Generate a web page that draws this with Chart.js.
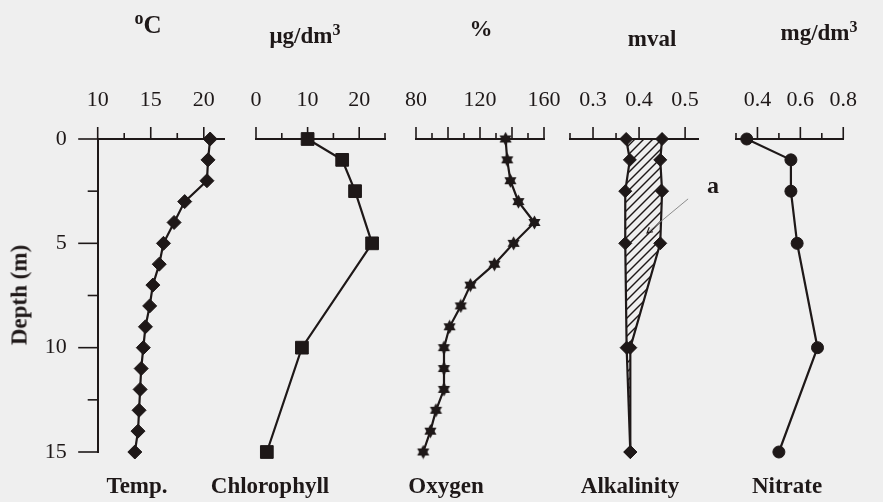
<!DOCTYPE html>
<html><head><meta charset="utf-8">
<script src="https://cdn.jsdelivr.net/npm/chart.js@4/dist/chart.umd.min.js"></script>
<style>
html,body{margin:0;padding:0;background:#efefef;}
#wrap{position:relative;width:883px;height:502px;overflow:hidden;background:#efefef;font-family:"Liberation Serif","Times New Roman",serif;color:#1e1818;}
#wrap canvas{position:absolute;left:0;top:0;}
.t{position:absolute;white-space:nowrap;font-weight:bold;}
</style></head><body><div id="wrap"></div>
<script>
// ---- data ----
const depthMetres = [0,1,2,3,4,5,6,7,8,9,10,11,12,13,14,15];
const temperature = [20.6,20.4,20.3,18.2,17.2,16.2,15.8,15.2,14.9,14.5,14.3,14.1,14.0,13.9,13.8,13.5];
const oxygen = [136,137,139,144,154,141,129,114,108,101,97.5,97.5,97.5,92.5,89,84.5];
const sampleDepths = [0,1,2.5,5,10,15];
const chlorophyll = [10,16.7,19.2,22.5,8.9,2.1];
const alkalinityLow = [0.372,0.380,0.370,0.370,0.373,0.381];
const alkalinityHigh = [0.450,0.446,0.450,0.446,0.381,0.381];
const nitrate = [0.35,0.556,0.556,0.585,0.68,0.50];
const unitTitles = ['<span style="font-size:18px;position:relative;top:-9px">o</span>C','\u03bcg/dm<span style="font-size:16px;position:relative;top:-8px">3</span>','%','mval','mg/dm<span style="font-size:16px;position:relative;top:-8px">3</span>'];
const panelNames = ['Temp.','Chlorophyll','Oxygen','Alkalinity','Nitrate'];
const depthTitle = 'Depth (m)';
const annotationLabel = 'a';
const arrowFrom = {x:0.5065, y:2.87};
const arrowTo = {x:0.4174, y:4.5};

const INK = '#1e1818';
const W = 883, H = 502, AREA_TOP = 139, AREA_BOTTOM = 452;
const wrap = document.getElementById('wrap');

function isMult(v, s){ const r = v/s; return Math.abs(r - Math.round(r)) < 1e-6; }
function fmt(v){ return String(Number(v.toFixed(3))); }
function pts(depths, vals){ return depths.map((d,i)=>({x: vals[i], y: d})); }

function addText(html, cx, baseline, size){
  const d = document.createElement('div');
  d.className = 't';
  d.innerHTML = html;
  d.style.fontSize = size+'px';
  d.style.lineHeight = size+'px';
  d.style.left = cx+'px';
  d.style.top = (baseline - 0.8375*size)+'px';
  d.style.transform = 'translateX(-50%)';
  wrap.appendChild(d);
  return d;
}

// six-pointed star marker
function makeStar(){
  const c = document.createElement('canvas'); c.width = 15; c.height = 15;
  const g = c.getContext('2d'); g.fillStyle = INK;
  const r = 7, cx = 7.5, cy = 7.5;
  for (const off of [-Math.PI/2, Math.PI/2]) {
    g.beginPath();
    for (let k=0;k<3;k++){ const a = off + k*2*Math.PI/3; const px = cx + r*Math.cos(a), py = cy + r*Math.sin(a); k?g.lineTo(px,py):g.moveTo(px,py); }
    g.closePath(); g.fill();
  }
  return c;
}
function makeHatch(){
  const c = document.createElement('canvas'); c.width = 9; c.height = 9;
  const g = c.getContext('2d'); g.strokeStyle = INK; g.lineWidth = 1.4;
  g.beginPath(); g.moveTo(-1,10); g.lineTo(10,-1); g.stroke();
  g.beginPath(); g.moveTo(-1,1); g.lineTo(1,-1); g.stroke();
  g.beginPath(); g.moveTo(8,10); g.lineTo(10,8); g.stroke();
  return g.createPattern(c,'repeat');
}

const tickMarks = {
  id: 'tickMarks',
  afterDraw(chart, args, o){
    const ctx = chart.ctx, ca = chart.chartArea;
    ctx.save(); ctx.strokeStyle = INK; ctx.lineWidth = 1.6;
    const xs = chart.scales.x;
    xs.ticks.forEach(t => {
      const px = xs.getPixelForValue(t.value);
      const len = isMult(t.value, o.xMajor) ? 12 : 6;
      ctx.beginPath(); ctx.moveTo(px, ca.top); ctx.lineTo(px, ca.top - len); ctx.stroke();
    });
    if (o.yTicks) {
      const ys = chart.scales.y;
      ys.ticks.forEach(t => {
        const py = ys.getPixelForValue(t.value);
        const len = isMult(t.value, 5) ? 19.5 : 10;
        ctx.beginPath(); ctx.moveTo(ca.left, py); ctx.lineTo(ca.left - len, py); ctx.stroke();
      });
    }
    ctx.restore();
  }
};

const arrowPlugin = {
  id: 'arrowNote',
  afterDraw(chart){
    const xs = chart.scales.x, ys = chart.scales.y, ctx = chart.ctx;
    const x1 = xs.getPixelForValue(arrowFrom.x), y1 = ys.getPixelForValue(arrowFrom.y);
    const x2 = xs.getPixelForValue(arrowTo.x), y2 = ys.getPixelForValue(arrowTo.y);
    ctx.save(); ctx.strokeStyle = '#8c8c8c'; ctx.lineWidth = 1;
    ctx.beginPath(); ctx.moveTo(x1,y1); ctx.lineTo(x2,y2); ctx.stroke();
    const a = Math.atan2(y2-y1, x2-x1);
    ctx.strokeStyle = INK; ctx.lineWidth = 1.2;
    ctx.beginPath();
    ctx.moveTo(x2 - 6*Math.cos(a-0.5), y2 - 6*Math.sin(a-0.5));
    ctx.lineTo(x2, y2);
    ctx.lineTo(x2 - 6*Math.cos(a+0.5), y2 - 6*Math.sin(a+0.5));
    ctx.stroke();
    ctx.restore();
  }
};

function panel(cfg){
  const cv = document.createElement('canvas'); cv.width = W; cv.height = H;
  cv.style.width = W+'px'; cv.style.height = H+'px';
  wrap.appendChild(cv);
  const font = {family:'"Liberation Serif", serif', size:22};
  return new Chart(cv, {
    type: 'line',
    data: { datasets: cfg.datasets },
    options: {
      indexAxis: 'y',
      responsive: false, animation: false, devicePixelRatio: 1,
      events: [],
      layout: { padding: { left: cfg.showY ? cfg.left - 60 : cfg.left, right: W - cfg.right, top: AREA_TOP - 60, bottom: H - AREA_BOTTOM } },
      plugins: { legend:{display:false}, tooltip:{enabled:false}, tickMarks: { xMajor: cfg.major, yTicks: !!cfg.showY } },
      scales: {
        x: {
          type:'linear', position:'top', min: cfg.min, max: cfg.max,
          afterFit: s => { s.height = 60; },
          grid: { display:false, drawTicks:false },
          border: { display:true, color: INK, width: 2 },
          ticks: { stepSize: cfg.step, includeBounds:false, autoSkip:false, maxRotation:0, padding:26, color: INK, font,
                   callback: v => isMult(v, cfg.labelStep) ? fmt(v) : '' }
        },
        y: {
          type:'linear', reverse:true, min:0, max:15, display: !!cfg.showY,
          afterFit: s => { s.width = cfg.showY ? 60 : 0; },
          grid: { display:false, drawTicks:false },
          border: { display:true, color: INK, width: 2 },
          ticks: { stepSize:2.5, includeBounds:false, autoSkip:false, padding:31, color: INK, font,
                   callback: v => isMult(v,5) ? String(v) : '' }
        }
      }
    },
    plugins: [tickMarks].concat(cfg.extraPlugins || [])
  });
}

const base = { borderColor: INK, borderWidth: 2.2, pointBackgroundColor: INK, pointBorderColor: INK, pointBorderWidth: 1, tension: 0, clip: false, fill: false };

panel({ left: 97.7, right: 225, min: 10, max: 22, step: 2.5, major: 5, labelStep: 5, showY: true,
  datasets: [Object.assign({}, base, { data: pts(depthMetres, temperature), pointStyle:'rectRot', pointRadius:7 })] });
panel({ left: 256, right: 385, min: 0, max: 25, step: 5, major: 10, labelStep: 10,
  datasets: [Object.assign({}, base, { data: pts(sampleDepths, chlorophyll), pointStyle:'rect', pointRadius:9 })] });
panel({ left: 416, right: 544, min: 80, max: 160, step: 10, major: 20, labelStep: 40,
  datasets: [Object.assign({}, base, { data: pts(depthMetres, oxygen), pointStyle: makeStar(), pointRadius:7 })] });
panel({ left: 570, right: 698, min: 0.25, max: 0.528, step: 0.05, major: 0.1, labelStep: 0.1, extraPlugins:[arrowPlugin],
  datasets: [
    Object.assign({}, base, { data: pts(sampleDepths, alkalinityLow), pointStyle:'rectRot', pointRadius:6.5 }),
    Object.assign({}, base, { data: pts(sampleDepths, alkalinityHigh), pointStyle:'rectRot', pointRadius:6.5, fill:'-1', backgroundColor: makeHatch() })
  ] });
panel({ left: 736, right: 865, min: 0.3, max: 0.8, step: 0.1, major: 0.2, labelStep: 0.2,
  datasets: [Object.assign({}, base, { data: pts(sampleDepths, nitrate), pointStyle:'circle', pointRadius:6 })] });

// titles and labels
const titleX = [148, 305, 481, 652, 819];
const titleBase = [33, 43, 36, 46, 40];
unitTitles.forEach((t,i)=> addText(t, titleX[i], titleBase[i], i === 0 ? 25 : 23));
const nameX = [137, 270, 446, 630, 787];
panelNames.forEach((t,i)=> addText(t, nameX[i], 493, 23));
addText(annotationLabel, 713, 193, 24);
const dt = addText(depthTitle, 19, 303, 23);
dt.style.transformOrigin = '0 0';
dt.style.transform = 'rotate(-90deg) translate(-50%, -50%)';
dt.style.left = '19px'; dt.style.top = '295px';
</script></body></html>
